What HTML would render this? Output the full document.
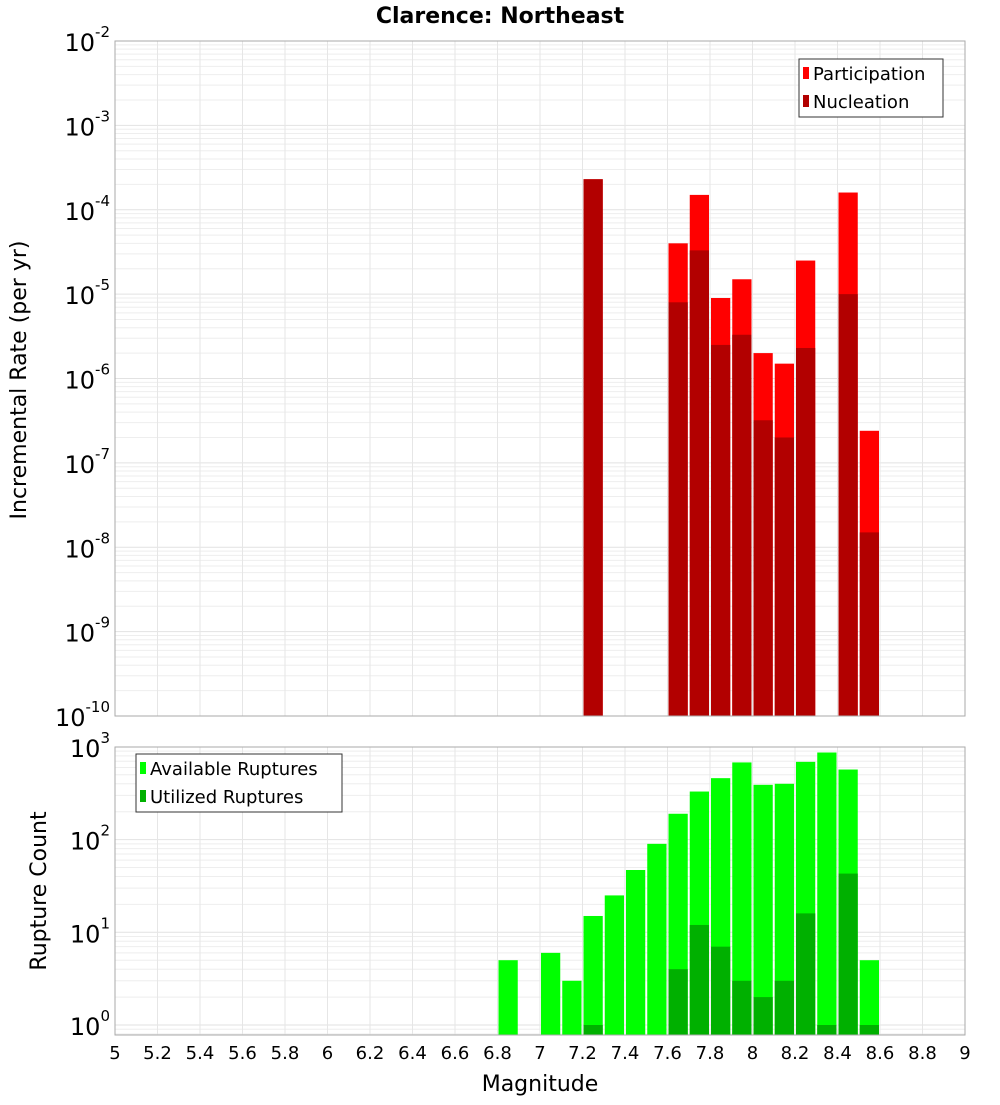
<!DOCTYPE html>
<html><head><meta charset="utf-8"><style>
body{margin:0;background:#fff;font-family:"Liberation Sans","DejaVu Sans",sans-serif}
svg text{font-family:"DejaVu Sans","Liberation Sans",sans-serif}
</style></head><body>
<svg id="chart" width="1000" height="1100" xmlns="http://www.w3.org/2000/svg">
<text x="500" y="23" text-anchor="middle" font-size="22" font-weight="bold">Clarence: Northeast</text>
<g id="top"></g><g id="bot"></g>
<text transform="translate(26,380) rotate(-90)" text-anchor="middle" font-size="22">Incremental Rate (per yr)</text>
<text transform="translate(46,891) rotate(-90)" text-anchor="middle" font-size="22">Rupture Count</text>
<text x="540" y="1091" text-anchor="middle" font-size="22">Magnitude</text>
</svg>
<script>
const topBins=[7.25,7.65,7.75,7.85,7.95,8.05,8.15,8.25,8.45,8.55];
const participation=[2.3e-4,4e-5,1.5e-4,9e-6,1.5e-5,2e-6,1.5e-6,2.5e-5,1.6e-4,2.4e-7];
const nucleation=[2.3e-4,8e-6,3.3e-5,2.5e-6,3.3e-6,3.2e-7,2e-7,2.3e-6,1e-5,1.5e-8];
const botBins=[6.85,7.05,7.15,7.25,7.35,7.45,7.55,7.65,7.75,7.85,7.95,8.05,8.15,8.25,8.35,8.45,8.55];
const available=[5,6,3,15,25,47,90,190,330,460,680,390,400,690,870,570,5];
const utilized=[0,0,0,1,0,0,0,4,12,7,3,2,3,16,1,43,1];
const xTicks=[5,5.2,5.4,5.6,5.8,6,6.2,6.4,6.6,6.8,7,7.2,7.4,7.6,7.8,8,8.2,8.4,8.6,8.8,9];
const topExps=[-10,-9,-8,-7,-6,-5,-4,-3,-2];
const botExps=[0,1,2,3];
const NS="http://www.w3.org/2000/svg";
const X0=115,X1=965;
const xs=v=>X0+(v-5)/4*(X1-X0);
function el(p,t,a){const e=document.createElementNS(NS,t);for(const k in a)e.setAttribute(k,a[k]);p.appendChild(e);return e;}
function panel(g,top,bottom,yf,minE,maxE,exps,nm){
  const bg=el(g,'rect',{x:X0,y:top,width:X1-X0,height:bottom-top,fill:'#fff'});
  
  
  for(let e=minE;e<maxE;e++)for(let m=1;m<10;m++){const y=yf(m*Math.pow(10,e));if(y<top||y>bottom)continue;
    const l=el(g,'line',{x1:X0,x2:X1,y1:y,y2:y,stroke:m==1?'#e2e2e2':'#eeeeee','stroke-width':1});
    
    }
  xTicks.forEach(t=>{const l=el(g,'line',{x1:xs(t),x2:xs(t),y1:top,y2:bottom,stroke:'#e6e6e6'});
    
    });
  exps.forEach(e=>{const y=yf(Math.pow(10,e));const t=el(g,'text',{x:X0-5,y:y+10,'text-anchor':'end','font-size':24});
    
    
    t.textContent='10';const s=el(t,'tspan',{dy:-14,'font-size':15});s.textContent=e;});
}
function bars(g,bins,vals,yf,bottom,color,nm){
  bins.forEach((b,i)=>{if(!vals[i])return;const y=yf(vals[i]);const w=(X1-X0)/40;
    const r=el(g,'rect',{x:xs(b)-w/2+1,y:y,width:w-2,height:bottom-y,fill:color});
    
    });
}
// top panel
const gt=document.getElementById('top');
const tT=41,tB=716;
const yT=v=>tB-(Math.log10(v)+10)*(tB-tT)/8;
panel(gt,tT,tB,yT,-10,-2,topExps,'rate');
bars(gt,topBins,participation,yT,tB,'#ff0000','participation');
bars(gt,topBins,nucleation,yT,tB,'#b20000','nucleation');
el(gt,'rect',{x:X0,y:tT,width:X1-X0,height:tB-tT,fill:'none',stroke:'#aaa'});
// bottom panel
const gb=document.getElementById('bot');
const bT=747,bB=1035,d=92.7,y0=1025;
const yB=v=>y0-Math.log10(v)*d;
panel(gb,bT,bB,yB,-1,3,botExps,'count');
bars(gb,botBins,available,yB,bB,'#00ff00','available');
bars(gb,botBins,utilized,yB,bB,'#00b000','utilized');
el(gb,'rect',{x:X0,y:bT,width:X1-X0,height:bB-bT,fill:'none',stroke:'#aaa'});
xTicks.forEach(t=>{const tx=el(gb,'text',{x:xs(t),y:1059,'text-anchor':'middle','font-size':18});
  
  
  tx.textContent=String(t);});
// legends
function legend(x,y,w,items,nm){const g=el(document.getElementById('chart'),'g',{});
  
  
  el(g,'rect',{x:x,y:y,width:w,height:58,fill:'#fff',stroke:'#333'});
  items.forEach((it,i)=>{const cy=y+14+i*28;
    const e=el(g,'g',{});
    
    
    el(e,'rect',{x:x+4,y:cy-6,width:6,height:12,fill:it[1]});
    const t=el(e,'text',{x:x+14,y:cy+7,'font-size':18});t.textContent=it[0];});}
legend(799,59,144,[['Participation','#ff0000'],['Nucleation','#b20000']],'rate-legend');
legend(136,754,206,[['Available Ruptures','#00ff00'],['Utilized Ruptures','#00b000']],'count-legend');
</script>
</body></html>
